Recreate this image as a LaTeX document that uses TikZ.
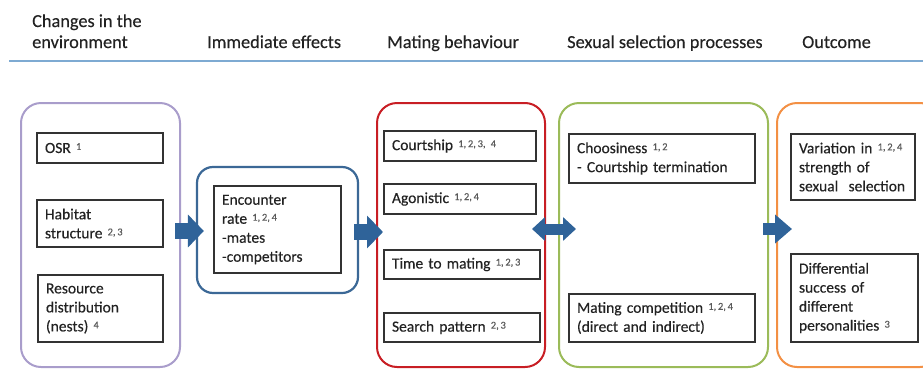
\documentclass[tikz,border=0pt]{standalone}
\usepackage{fontspec}
\setmainfont{Carlito}[UprightFeatures={FakeBold=0.35}]
\usetikzlibrary{arrows.meta}
\definecolor{lav}{HTML}{A99DCB}
\definecolor{imblue}{HTML}{3B6896}
\definecolor{matred}{HTML}{C81E24}
\definecolor{sspgreen}{HTML}{9BBB59}
\definecolor{outorange}{HTML}{F39044}
\definecolor{arrblue}{HTML}{2F6399}
\definecolor{linblue}{HTML}{7EAAD2}
\definecolor{boxgray}{HTML}{333333}
\definecolor{refgray}{HTML}{5A5A5A}
\definecolor{txt}{HTML}{222222}
\newcommand\refn[1]{\raisebox{3pt}{\fontsize{10.5}{10}\selectfont\color{refgray}#1}}
\begin{document}
\begin{tikzpicture}[x=1pt,y=-1pt,
  hdr/.style={anchor=base west, inner sep=0pt, font=\fontsize{18.3}{21}\selectfont, text=txt},
  obox/.style={draw, rounded corners=20pt, line width=2pt, inner sep=0pt},
  ibox/.style={draw=boxgray, line width=1.3pt, inner xsep=8pt, inner ysep=0pt, align=left,
    font=\fontsize{15.5}{19}\selectfont, text=txt},
  barrow/.style={draw=arrblue, fill=arrblue, line width=#1},
]
\useasboundingbox (0,0) rectangle (923,370);
\clip (0,0) rectangle (923,370);
% headers
\node[hdr] (h1a) at (32,27) {Changes in the};
\node[hdr] (h1b) at (32,48) {environment};
\node[hdr] (h2) at (207,48) {Immediate effects};
\node[hdr] (h3) at (387,48) {Mating behaviour};
\node[hdr] (h4) at (567,48) {Sexual selection processes};
\node[hdr] (h5) at (802,48) {Outcome};
\coordinate (la) at (9,61);
\coordinate (lb) at (923,61);
\draw[linblue, line width=2pt] (la) -- (lb);
% outer boxes
\node[obox, draw=lav, minimum width=159pt, minimum height=264pt] (env) at (100.5,235) {};
\node[obox, draw=imblue, rounded corners=16pt, line width=2.2pt, minimum width=161pt, minimum height=126pt] (imm) at (277.5,230) {};
\node[obox, draw=matred, minimum width=168pt, minimum height=264pt] (mat) at (461,235) {};
\node[obox, draw=sspgreen, minimum width=209pt, minimum height=264pt] (ssp) at (663.5,235) {};
\node[obox, draw=outorange, minimum width=163pt, minimum height=264pt] (out) at (858.5,235) {};
% inner boxes
\node[ibox, text width=110pt, minimum height=30pt] (osr) at (100,148) {OSR \refn{1}};
\node[ibox, text width=110pt, minimum height=47pt] (hab) at (100,223.5) {Habitat\\structure~\refn{2,\,3}};
\node[ibox, text width=109pt, minimum height=67pt] (res) at (100.5,308.5) {Resource\\distribution\\(nests)~\refn{4}};
\node[ibox, text width=111pt, minimum height=87pt] (enc) at (277.5,229.5) {Encounter\\rate~\refn{1,\,2,\,4}\\-mates\\-competitors};
\node[ibox, text width=136pt, minimum height=30pt] (crt) at (460,146) {Courtship~\refn{1,\,2,\,3,~4}};
\node[ibox, text width=136pt, minimum height=30pt] (ago) at (460,199) {Agonistic~\refn{1,\,2,\,4}};
\node[ibox, text width=140pt, minimum height=29pt] (tim) at (462,264.5) {Time~to~mating~\refn{1,\,2,\,3}};
\node[ibox, text width=140pt, minimum height=29pt] (sea) at (462,327.5) {Search~pattern~\refn{2,\,3}};
\node[ibox, text width=170pt, minimum height=49pt] (cho) at (662,158.5) {Choosiness~\refn{1,\,2}\\-~Courtship~termination};
\node[ibox, text width=170pt, minimum height=48pt] (com) at (662,318) {Mating~competition~\refn{1,\,2,\,4}\\(direct~and~indirect)};
\node[ibox, text width=108pt, minimum height=66pt] (var) at (853,167) {Variation~in~\refn{1,\,2,\,4}\\strength~of\\sexual~~selection};
\node[ibox, text width=111pt, minimum height=88pt] (dif) at (854.5,298) {Differential\\success~of\\different\\personalities~\refn{3}};
% arrows
\draw[barrow=16pt, -{Triangle[length=16pt,width=32pt]}]
  ([shift={(-6,-4)}]env.east) -- ([shift={(8,1)}]imm.west);
\draw[barrow=16pt, -{Triangle[length=16pt,width=32pt]}]
  ([shift={(-5,2)}]imm.east) -- ([shift={(7,-3)}]mat.west);
\draw[barrow=11pt, {Triangle[length=13pt,width=23pt]}-{Triangle[length=13pt,width=23pt]}]
  ([shift={(-14,-6)}]mat.east) -- ([shift={(18,-6)}]ssp.west);
\draw[barrow=12pt, -{Triangle[length=17pt,width=28pt]}]
  ([shift={(-6,-6)}]ssp.east) -- ([shift={(16,-6)}]out.west);
\end{tikzpicture}
\end{document}
